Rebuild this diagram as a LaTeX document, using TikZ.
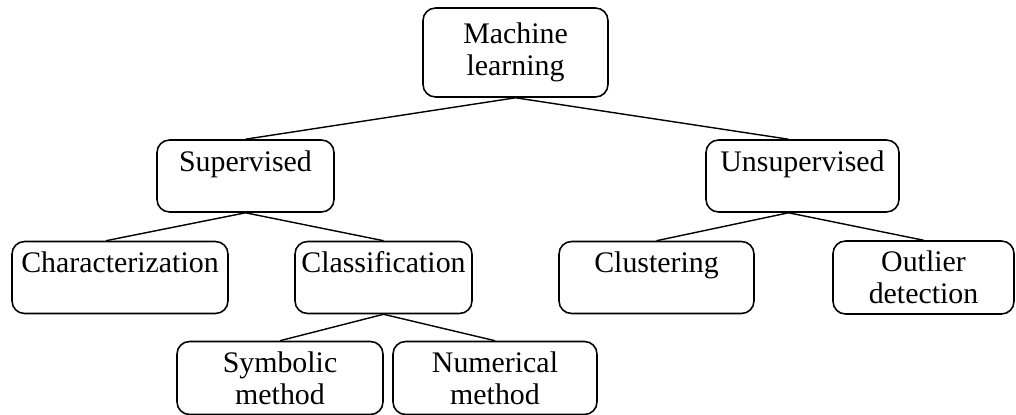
\documentclass[tikz,border=0pt]{standalone}
\usepackage{fontspec}
\setmainfont{Liberation Serif}
\begin{document}
\begin{tikzpicture}[x=0.02cm,y=-0.02cm,
    box/.style={draw, line width=0.9pt, rounded corners=0.25cm, align=center,
      inner xsep=0pt, inner ysep=0.2cm, font=\fontsize{17}{18.2}\selectfont},
    onebox/.style={box, text height=0.42cm, text depth=0.62cm}]
  \useasboundingbox (0,0) rectangle (1016,415);
  \draw
    (515.5,52.5) node[box, minimum width=3.7cm, minimum height=1.78cm] (ml){Machine\\learning}
    (245.5,176) node[onebox, minimum width=3.54cm] (sup){Supervised}
    (802.5,176) node[onebox, minimum width=3.86cm] (unsup){Unsupervised}
    (120,277.5) node[onebox, minimum width=4.32cm] (char){Characterization}
    (383.5,277.5) node[onebox, minimum width=3.54cm] (class){Classification}
    (656.5,277.5) node[onebox, minimum width=3.9cm] (clust){Clustering}
    (923.5,277.5) node[box, minimum width=3.62cm, minimum height=1.42cm] (outl){Outlier\\detection}
    (280,378) node[box, minimum width=4.12cm, minimum height=1.4cm] (symb){Symbolic\\method}
    (495,378) node[box, minimum width=4.08cm, minimum height=1.4cm] (num){Numerical\\method};
  \begin{scope}[line width=0.8pt]
    \draw (ml.south) to (sup.north);
    \draw (ml.south) to ([xshift=-0.28cm]unsup.north);
    \draw (sup.south) to ([xshift=-0.28cm]char.north);
    \draw (sup.south) to (class.north);
    \draw ([xshift=-0.28cm]unsup.south) to (clust.north);
    \draw ([xshift=-0.28cm]unsup.south) to (outl.north);
    \draw (class.south) to (symb.north);
    \draw (class.south) to (num.north);
  \end{scope}
\end{tikzpicture}
\end{document}
